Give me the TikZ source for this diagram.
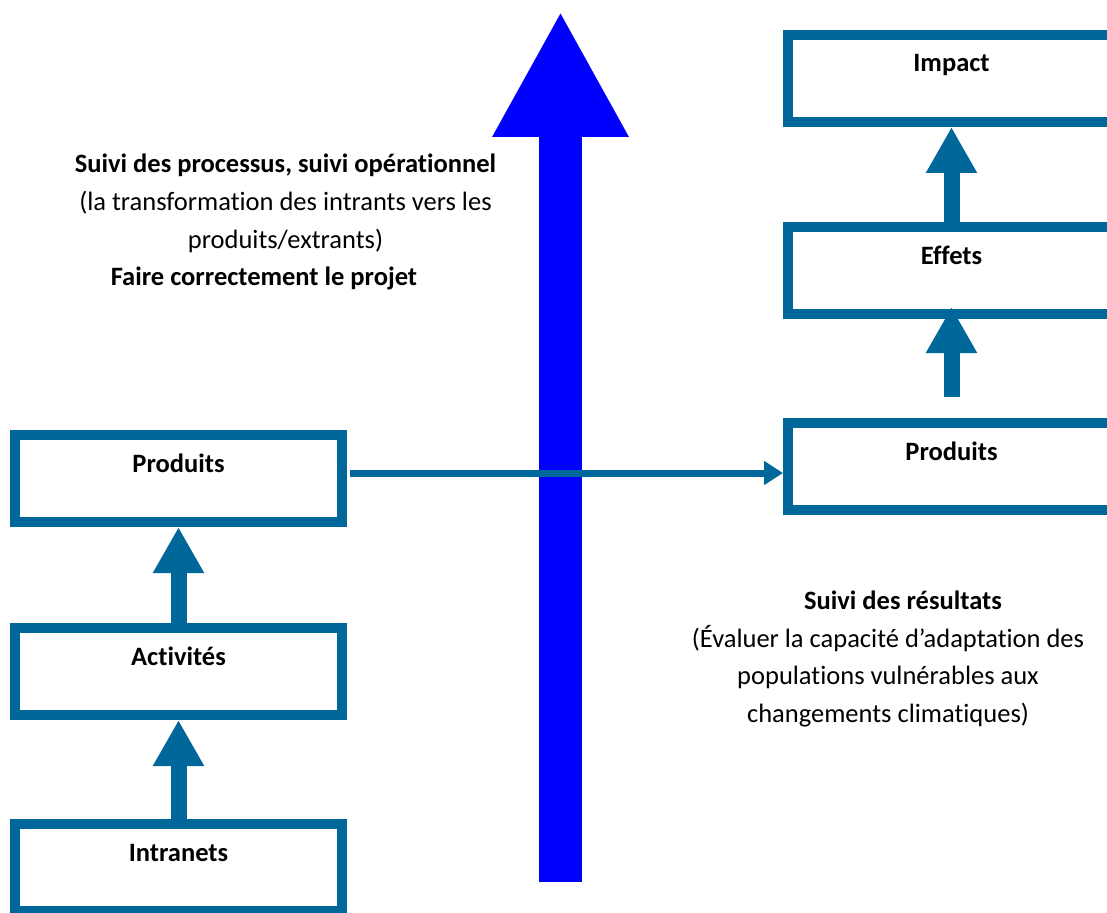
\documentclass[tikz,border=0pt]{standalone}
\usepackage{fontspec}
\setmainfont{Carlito}[Ligatures=NoCommon]
\usetikzlibrary{arrows.meta}
\definecolor{steelblue}{RGB}{0,103,155}
\newcommand{\diagfont}{\fontsize{26.5}{37.5}\selectfont}
\begin{document}
\begin{tikzpicture}
[x=1pt, y=-1pt, box/.style={draw=steelblue, line width=10pt, fill=white, inner sep=0pt, minimum width=327pt, text height=37pt, text depth=50pt, font=\diagfont\bfseries}, up arrow/.style={steelblue, line width=16pt, -{Triangle[length=46pt, width=48pt]}}, link/.style={steelblue, line width=7pt, -{Triangle[length=19pt, width=23pt]}}, big arrow/.style={blue, line width=43pt, -{Triangle[length=126pt, width=127pt]}}, every node/.style={color=black, font=\diagfont}]
    \useasboundingbox (0,0) rectangle (1107,912);
    \clip (0,0) rectangle (1107,912);
    \coordinate (foot) at (560.5,882);
    \coordinate (peak) at (560.5,11);
    \draw[big arrow] (foot) -- (peak);
    % left column
    \node[box, anchor=north] (lprod) at (178.5,430) {Produits};
    \node[box, anchor=north] (act) at (178.5,623) {Activités};
    \node[box, anchor=north] (intr) at (178.5,819) {Intranets};
    % right column
    \node[box, anchor=north] (impact) at (951.5,30) {Impact};
    \node[box, anchor=north] (effets) at (951.5,222) {Effets};
    \node[box, anchor=north] (rprod) at (951.5,418) {Produits};
    \draw[up arrow] (act.north) -- (lprod.south);
    \draw[up arrow] (intr.north) -- (act.south);
    \draw[up arrow] (effets.north) -- (impact.south);
    \draw[up arrow, shorten <=21pt, shorten >=-12pt] (rprod.north) -- (effets.south);
    \draw[link] ([xshift=3pt, yshift=5.5pt]lprod.east) -- ([yshift=-6.5pt]rprod.west);
    % texts
    \node[anchor=base] (proctitle) at (285.5,173) {\bfseries Suivi des processus, suivi opérationnel};
    \node[anchor=base, align=center] (proctext) at (285.5,248) {(la transformation des intrants vers les\\produits/extrants)};
    \node[anchor=base] (procgoal) at (264,285) {\bfseries Faire correctement le projet};
    \node[anchor=base] (restitle) at (903,609) {\bfseries Suivi des résultats};
    \node[anchor=base, align=center] (restext) at (888,722) {(Évaluer la capacité d’adaptation des\\populations vulnérables aux\\changements climatiques)};
\end{tikzpicture}
\end{document}
